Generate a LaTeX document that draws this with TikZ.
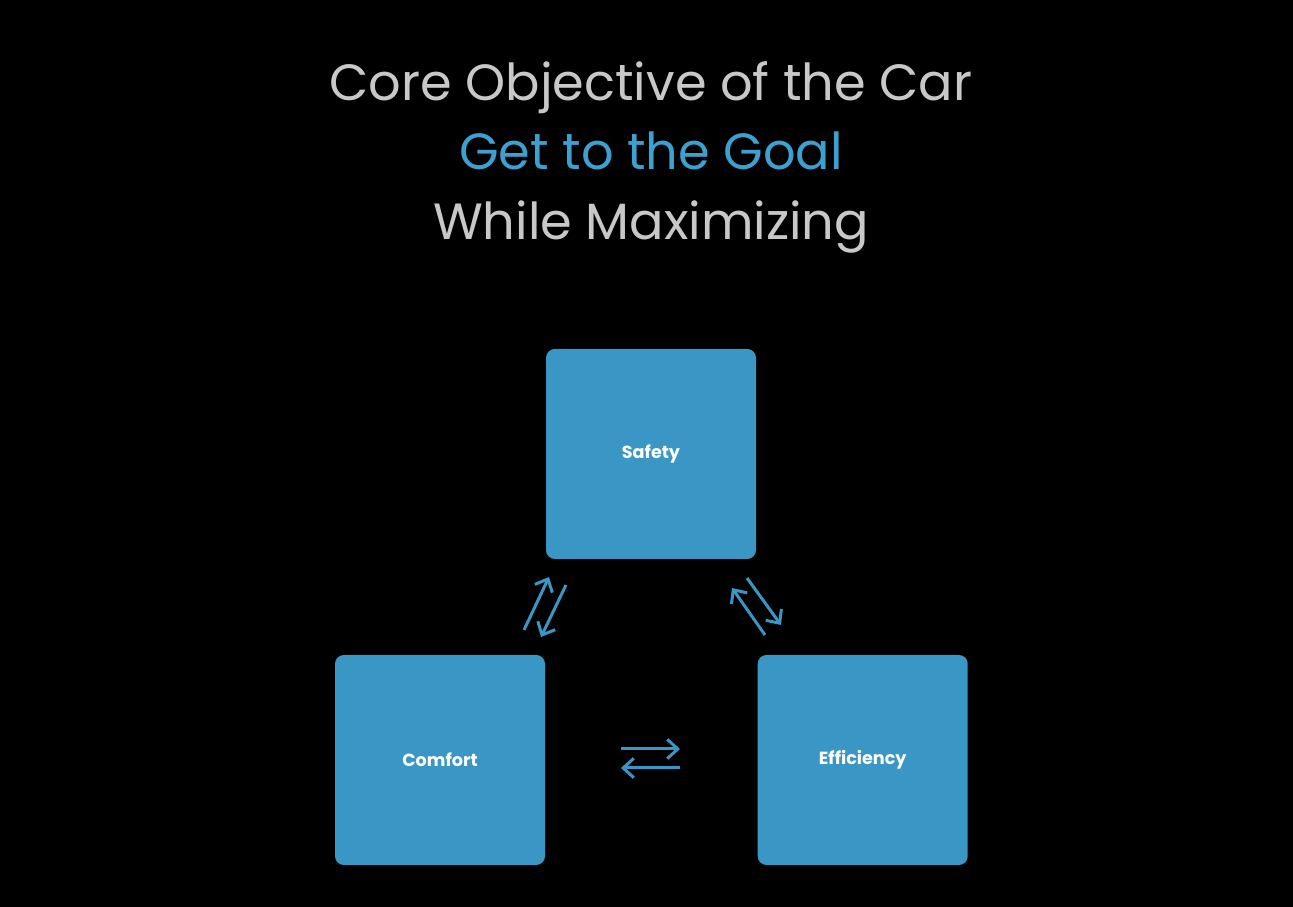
\documentclass[tikz,border=0pt]{standalone}
\usepackage{fontspec}
\setmainfont{Poppins}
\usetikzlibrary{arrows.meta, positioning}
\definecolor{boxblue}{RGB}{58,150,196}
\definecolor{goalblue}{RGB}{60,160,208}
\definecolor{titlegray}{RGB}{200,200,200}
\tikzset{
    goalbox/.style={fill=boxblue, rounded corners=5pt, minimum size=4.2cm, inner sep=0pt,
        text=white, font=\fontsize{10}{12}\selectfont\bfseries},
    titleline/.style={font=\fontsize{29}{34}\selectfont, text=titlegray, anchor=base},
    tradeoff/.style={draw=boxblue, line width=1.7pt, -{Straight Barb[length=6pt, width=11pt, line width=1.7pt]}}
}
\begin{document}
\begin{tikzpicture}
        \fill[black] (0,0) rectangle (25.86,18.14);
        \useasboundingbox (0,0) rectangle (25.86,18.14);

        % Title
        \node[titleline] (title) at (13.02,16.12) {Core Objective of the Car};
        \node[titleline, text=goalblue] (goal) at (13.02,14.74) {Get to the Goal};
        \node[titleline] (maxi) at (13.02,13.34) {While Maximizing};

        % Boxes
        \node[goalbox] (safety) at (13.02,9.06) {Safety};
        \node[goalbox] (comfort) at (8.80,2.94) {Comfort};
        \node[goalbox, right=4.24cm of comfort] (efficiency) {Efficiency};

        % Arrow ends: Comfort <-> Safety
        \coordinate (CS1) at (10.48,5.54);
        \coordinate (CS2) at (10.98,6.60);
        \coordinate (SC1) at (11.32,6.44);
        \coordinate (SC2) at (10.82,5.40);
        % Efficiency <-> Safety
        \coordinate (ES1) at (15.30,5.44);
        \coordinate (ES2) at (14.64,6.38);
        \coordinate (SE1) at (14.94,6.58);
        \coordinate (SE2) at (15.62,5.64);
        % Comfort <-> Efficiency
        \coordinate (CE1) at (12.42,3.16);
        \coordinate (CE2) at (13.60,3.16);
        \coordinate (EC1) at (13.60,2.78);
        \coordinate (EC2) at (12.42,2.78);

        \draw[tradeoff] (CS1) -- (CS2);
        \draw[tradeoff] (SC1) -- (SC2);
        \draw[tradeoff] (ES1) -- (ES2);
        \draw[tradeoff] (SE1) -- (SE2);
        \draw[tradeoff] (CE1) -- (CE2);
        \draw[tradeoff] (EC1) -- (EC2);
    \end{tikzpicture}
\end{document}
